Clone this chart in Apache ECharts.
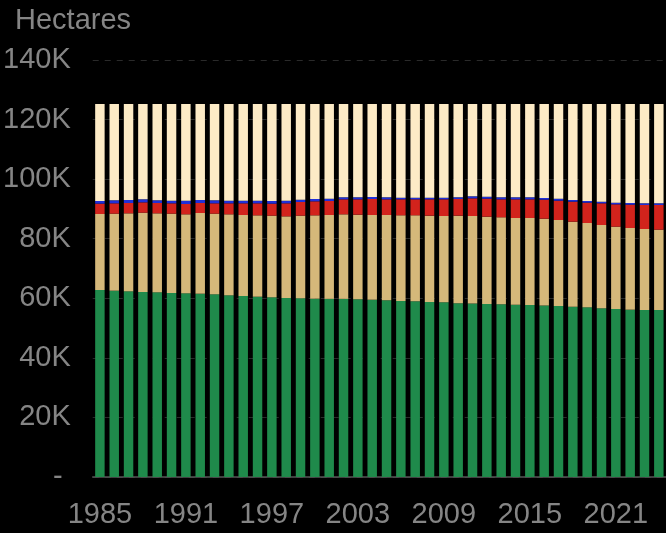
<!DOCTYPE html>
<html>
<head>
<meta charset="utf-8">
<script src="https://cdn.jsdelivr.net/npm/echarts@6/dist/echarts.min.js"></script>
<style>
html,body{margin:0;padding:0;background:#000;}
#chart{width:666px;height:533px;}
</style>
</head>
<body>
<div id="chart"></div>
<script>
const years = [];
for (let y = 1985; y <= 2024; y++) years.push(String(y));

// Hectares per category, bottom to top
const green = [62780,62550,62340,62110,62010,61770,61670,61540,61340,61000,60770,60530,60330,60100,60000,59860,59800,59800,59660,59520,59320,59090,58990,58750,58650,58320,58250,58080,57980,57850,57750,57580,57410,57180,56970,56640,56400,56170,56070,56070];
const tan = [25520,25860,26180,26630,26510,26640,26520,27090,27070,27190,27190,27320,27410,27410,27740,27990,28160,28390,28410,28440,28640,28760,28860,28990,28980,29420,29380,29320,29200,29100,29200,29150,28870,28540,28300,27960,27640,27430,27190,26970];
const red = [3470,3470,3470,3470,3470,3470,3460,3360,3470,3690,3920,4030,4030,4370,4590,4700,4700,5030,5150,5370,5260,5370,5370,5480,5590,5590,5930,6040,6040,6270,6270,6380,6490,6720,6830,7280,7500,7830,8060,8280];
const blue = [890,1000,1010,1010,890,890,1120,1010,1000,890,890,890,890,890,780,780,780,670,670,670,670,560,560,560,560,560,670,680,670,670,670,560,670,560,560,560,560,560,560,560];
const cream = [32540,32320,32200,31980,32320,32430,32430,32200,32320,32430,32430,32430,32540,32430,32090,31870,31760,31310,31310,31200,31310,31420,31420,31420,31420,31310,30970,31080,31310,31310,31310,31530,31760,32200,32540,32760,33100,33210,33320,33320];

const yTicks = [0, 20000, 40000, 60000, 80000, 100000, 120000, 140000];

const seriesDefs = [
  {name: 'Green', data: green, color: '#1f8a4b'},
  {name: 'Tan', data: tan, color: '#d5b87a'},
  {name: 'Red', data: red, color: '#d2231c'},
  {name: 'Blue', data: blue, color: '#1f2fd8'},
  {name: 'Cream', data: cream, color: '#fdebc6'}
];

const chart = echarts.init(document.getElementById('chart'), null, {renderer: 'canvas'});
const textColor = '#858585';
chart.setOption({
  backgroundColor: '#000',
  animation: false,
  title: {
    text: 'Hectares',
    left: 10, top: 1,
    textStyle: {color: textColor, fontSize: 29, fontWeight: 'normal', fontFamily: 'Liberation Sans'}
  },
  grid: {left: 92, right: 0, top: 60, bottom: 56, containLabel: false},
  xAxis: {
    type: 'category',
    data: years,
    axisLine: {lineStyle: {color: '#555', width: 1.5}},
    axisTick: {interval: 5, length: 10, lineStyle: {color: '#555', width: 1.5}},
    axisLabel: {interval: 5, color: textColor, fontSize: 29, margin: 23, fontFamily: 'Liberation Sans'}
  },
  yAxis: {
    type: 'value',
    min: yTicks[0], max: yTicks[yTicks.length - 1], interval: 20000,
    axisLine: {show: false},
    axisTick: {show: false},
    splitLine: {lineStyle: {color: '#2a2a2a', type: [6, 6], width: 1}},
    axisLabel: {
      color: textColor, fontSize: 29, margin: 22, fontFamily: 'Liberation Sans',
      formatter: v => v === 0 ? '- ' : (v / 1000) + 'K'
    }
  },
  series: seriesDefs.map(s => ({
    name: s.name,
    type: 'bar',
    stack: 'total',
    data: s.data,
    barCategoryGap: '34%',
    itemStyle: {color: s.color}
  }))
});
</script>
</body>
</html>
